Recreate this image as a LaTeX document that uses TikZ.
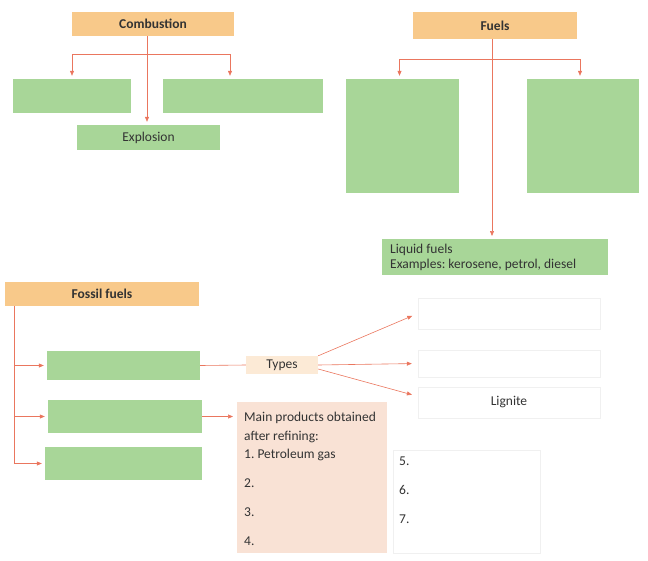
\documentclass[tikz,border=0pt]{standalone}
\usepackage{fontspec}
\setmainfont{Carlito}
\usepackage{xcolor}
\usepackage{tikz}
\usetikzlibrary{arrows.meta, positioning, shadows}
\definecolor{headgold}{RGB}{248, 201, 138}
\definecolor{leafgreen}{RGB}{168, 214, 152}
\definecolor{typepeach}{RGB}{252, 234, 214}
\definecolor{blushpink}{RGB}{249, 226, 213}
\definecolor{linkred}{RGB}{234, 118, 94}
\frenchspacing

\begin{document}
\begin{tikzpicture}[
    x=1pt, y=-1pt,
    font=\fontsize{13.5}{18.5}\selectfont,
    every node/.style={text=black!80, inner sep=0pt},
    head/.style={fill=headgold, font=\fontsize{13.5}{16}\selectfont\bfseries},
    leaf/.style={fill=leafgreen},
    blank/.style={fill=white, draw=black!6, line width=0.4pt,
        drop shadow={shadow xshift=1.2pt, shadow yshift=-1.2pt, fill=black!25, opacity=0.6}},
    line/.style={draw=linkred, line width=0.6pt},
    link/.style={line, -{Triangle[length=5pt, width=4pt]}, shorten >=3pt}
]
    \useasboundingbox (0,0) rectangle (648,560);

    \node[head, minimum width=162pt, minimum height=24pt] (comb) at (153,24) {Combustion};
    \node[leaf, minimum width=118pt, minimum height=34pt] (combL) at (72,96) {};
    \node[leaf, minimum width=160pt, minimum height=34pt] (combR) at (243,96) {};
    \node[leaf, minimum width=143pt, minimum height=25pt] (expl) at (148.5,137.5) {Explosion};
    \draw[link] ([xshift=-6pt]comb.south) -- ([xshift=-6pt]comb.south |- expl.north);
    \draw[link] ([xshift=-6pt]comb.south) ++(0,18) -| (combL.north);
    \draw[link] ([xshift=-6pt]comb.south) ++(0,18) -| ([xshift=-13pt]combR.north);

    \node[head, minimum width=164pt, minimum height=27pt] (fuels) at (495,25.5) {Fuels};
    \node[leaf, minimum width=113pt, minimum height=114pt] (fuelL) at (402.5,136) {};
    \node[leaf, minimum width=112pt, minimum height=114pt] (fuelR) at (583,136) {};
    \node[leaf, anchor=north west, inner xsep=8pt, font=\fontsize{13.5}{15}\selectfont] (liquid) at (382,239)
        {\parbox[c][36pt][c]{210pt}{\raggedright Liquid fuels\\Examples: kerosene, petrol, diesel}};
    \draw[link] ([xshift=-3pt]fuels.south) -- ([xshift=-3pt]fuels.south |- liquid.north);
    \draw[link] ([xshift=-3pt]fuels.south) ++(0,20) -| ([xshift=-3pt]fuelL.north);
    \draw[link] ([xshift=-3pt]fuels.south) ++(0,20) -| ([xshift=-3pt]fuelR.north);

    \node[head, minimum width=194pt, minimum height=24pt] (fossil) at (102,294) {Fossil fuels};
    \node[leaf, minimum width=153pt, minimum height=29pt] (fossA) at (123.5,365.5) {};
    \node[leaf, minimum width=154pt, minimum height=33pt] (fossB) at (125,416.5) {};
    \node[leaf, minimum width=157pt, minimum height=33pt] (fossC) at (123.5,463.5) {};
    \coordinate (spine) at ([xshift=9pt]fossil.south west);
    \draw[line] (spine) -- (spine |- fossC.west);
    \foreach \n in {fossA, fossB, fossC}
        \draw[link] (spine |- \n.west) -- (\n.west);

    \node[fill=typepeach, minimum width=72pt, minimum height=18pt] (types) at (282,365) {Types};
    \node[blank, minimum width=182pt, minimum height=31pt] (typeA) at (509,313.5) {};
    \node[blank, minimum width=182pt, minimum height=27pt] (typeB) at (509,363.5) {};
    \node[blank, minimum width=182pt, minimum height=31pt] (lignite) at (509,402.5) {Lignite};
    \draw[line] (fossA.east) -- (types.west);
    \draw[link, shorten >=6pt] (types.north east) -- (typeA.west);
    \draw[link, shorten >=6pt] (types.east) -- (typeB.west);
    \draw[link] ([yshift=-4pt]types.east) -- ([xshift=-3pt, yshift=7pt]lignite.west);

    \node[fill=blushpink, anchor=north west, inner xsep=7pt] (products) at (237,402)
        {\parbox[c][151pt][t]{136pt}{\raggedright\vspace*{10pt}Main products obtained\\after refining:\\1. Petroleum gas\\[10.5pt]2.\\[10.5pt]3.\\[10.5pt]4.}};
    \node[blank, anchor=north west, inner xsep=6pt] (productsB) at (393,450)
        {\parbox[c][103pt][t]{135pt}{\raggedright\vspace*{7pt}5.\\[10.5pt]6.\\[10.5pt]7.}};
    \draw[link, shorten >=4pt] (fossB.east) -- (fossB.east -| products.west);
\end{tikzpicture}
\end{document}
